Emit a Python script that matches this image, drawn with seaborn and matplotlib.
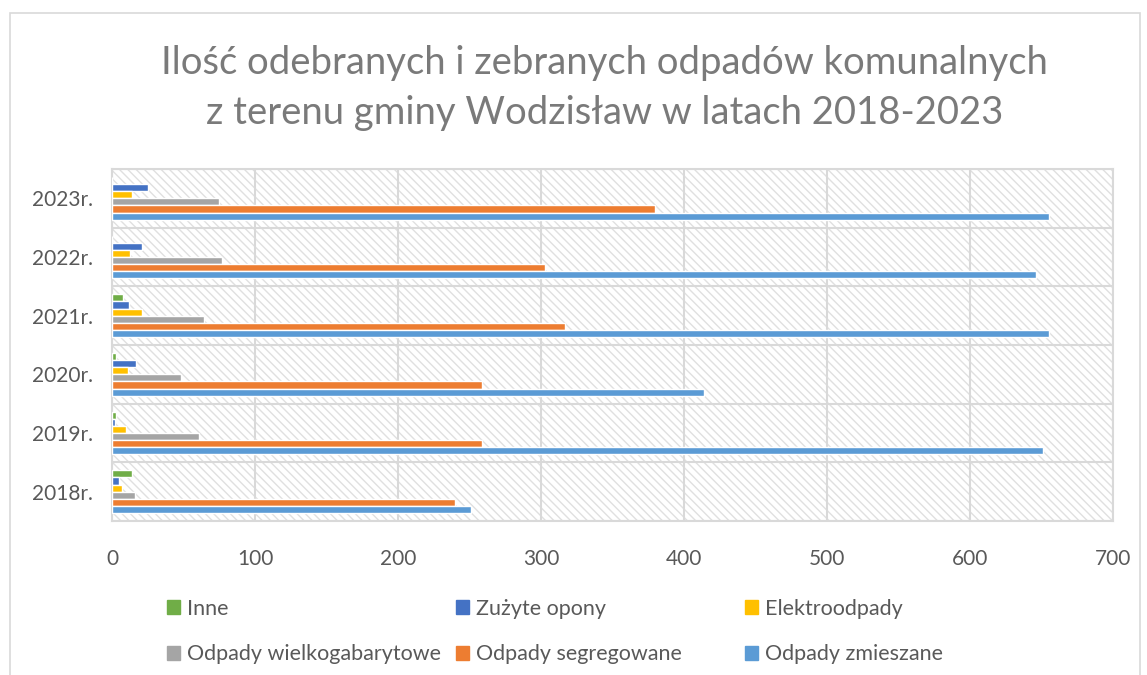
import numpy as np
import pandas as pd
import seaborn as sns
import matplotlib
matplotlib.use('Agg')
import matplotlib.pyplot as plt
from matplotlib.patches import Rectangle, Patch

# values (tonnes), top row first
years = ['2023r.', '2022r.', '2021r.', '2020r.', '2019r.', '2018r.']
inne = [0, 0, 8, 3, 2.5, 14]
opony = [25, 21, 12, 17, 2, 5]
elektro = [14, 12.5, 21, 11, 10, 7]
wielko = [75, 77, 64, 48, 61, 16]
segreg = [380, 303, 317, 259, 259, 240]
zmiesz = [655, 646, 655, 414, 651, 251]

series = ['Inne', 'Zużyte opony', 'Elektroodpady',
          'Odpady wielkogabarytowe', 'Odpady segregowane', 'Odpady zmieszane']
colors = ['#70ad47', '#4472c4', '#ffc000', '#a5a5a5', '#ed7d31', '#5b9bd5']
palette = dict(zip(series, colors))

rows = []
for name, vals in zip(series, [inne, opony, elektro, wielko, segreg, zmiesz]):
    for y, v in zip(years, vals):
        rows.append({'rok': y, 'seria': name, 'wartosc': v})
df = pd.DataFrame(rows)

sns.set_style('white')
plt.rcParams['font.family'] = ['Lato', 'DejaVu Sans']
plt.rcParams['hatch.linewidth'] = 1.0

fig = plt.figure(figsize=(11.47, 6.75), dpi=100)
ax = fig.add_axes([112 / 1147, 1 - 521 / 675, 1001 / 1147, 352 / 675])

# hatched background of the plot area
ax.add_patch(Rectangle((0, 0), 1, 1, transform=ax.transAxes, facecolor='white',
                       edgecolor='#e0e0e0', hatch='\\\\\\\\', linewidth=0, zorder=0))

sns.barplot(data=df, y='rok', x='wartosc', hue='seria', order=years,
            hue_order=series, palette=palette, orient='h', width=0.73,
            saturation=1, legend=False, ax=ax, zorder=3)

ax.set_xlim(0, 700)
ax.set_ylim(5.5, -0.5)
ax.set_xticks(np.arange(0, 701, 100))
ax.set_xlabel('')
ax.set_ylabel('')
ax.tick_params(axis='x', length=0, pad=20, labelsize=15, labelcolor='#595959')
ax.tick_params(axis='y', which='major', length=0, pad=14, labelsize=15, labelcolor='#595959')
ax.set_yticks(np.arange(-0.5, 6, 1), minor=True)
ax.tick_params(axis='y', which='minor', length=8, width=1.5, color='#d9d9d9', direction='out')
ax.grid(axis='x', which='major', color='#d9d9d9', linewidth=1.5, zorder=1)
ax.grid(axis='y', which='minor', color='#d9d9d9', linewidth=1.5, zorder=1)
ax.grid(axis='y', which='major', visible=False)
ax.set_axisbelow(True)
for s in ax.spines.values():
    s.set_visible(True)
    s.set_color('#d9d9d9')
    s.set_linewidth(1.5)

fig.text(0.527, 1 - 88 / 675, 'Ilość odebranych i zebranych odpadów komunalnych\nz terenu gminy Wodzisław w latach 2018-2023',
         ha='center', va='center', fontsize=27.5, color='#7a7a7a', linespacing=1.45)

# legend in three equal columns, row-major like the original
col_x = [158 / 1147, 447 / 1147, 736 / 1147]
for j in range(3):
    handles = [Patch(color=colors[j], label=series[j]),
               Patch(color=colors[j + 3], label=series[j + 3])]
    fig.legend(handles=handles, loc='upper left', bbox_to_anchor=(col_x[j], 1 - 590 / 675),
               frameon=False, fontsize=15.5, labelcolor='#595959', handlelength=0.6,
               handleheight=0.6, handletextpad=0.35, labelspacing=1.2, borderaxespad=0)

# chart area border
fig.add_artist(Rectangle((10 / 1147, -0.01), 1130 / 1147, 1.01 - 13 / 675, transform=fig.transFigure,
                         fill=False, edgecolor='#d9d9d9', linewidth=1.2))

fig.savefig('out.png', dpi=100)
